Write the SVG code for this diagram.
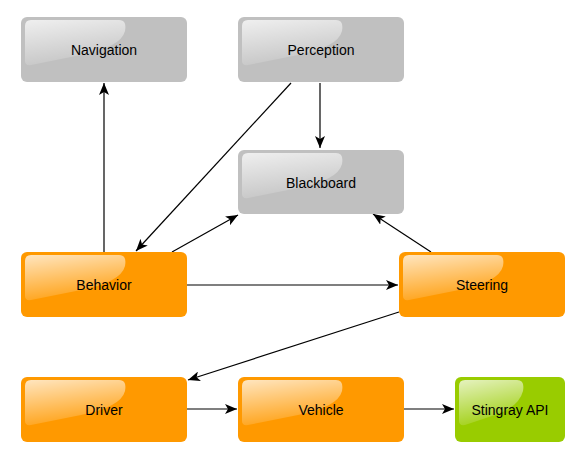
<svg xmlns="http://www.w3.org/2000/svg" width="579" height="460" viewBox="0 0 579 460">
<defs>
<linearGradient id="gloss" x1="0" y1="0" x2="0.3" y2="1">
<stop offset="0" stop-color="#fff" stop-opacity="0.75"/>
<stop offset="1" stop-color="#fff" stop-opacity="0.1"/>
</linearGradient>
<marker id="ah" viewBox="0 0 12 10" refX="12" refY="5" markerWidth="12" markerHeight="10" markerUnits="userSpaceOnUse" orient="auto">
<path d="M0,0 L12,5 L0,10 L3,5 Z" fill="#000"/>
</marker>
<g id="shine"><path d="M4,9 Q4,3 10,3 L98,3 Q106,3 104,14 Q100,30 60,38 Q30,44 10,48 Q4,49 4,44 Z" fill="url(#gloss)"/></g>
</defs>
<style>
.g rect.b{fill:#c0c0c0}
.o rect.b{fill:#ff9900}
.gr rect.b{fill:#99cc00}
text{font-family:"Liberation Sans",Arial,sans-serif;font-size:14px;fill:#000;text-anchor:middle;dominant-baseline:central}
.e{stroke:#000;stroke-width:1.2;fill:none;marker-end:url(#ah)}
</style>
<rect width="579" height="460" fill="#fff"/>
<g id="connectors">
<line class="e" x1="104" y1="252" x2="104" y2="83"/>
<line class="e" x1="291" y1="83" x2="136" y2="251"/>
<line class="e" x1="320" y1="83" x2="320" y2="148"/>
<line class="e" x1="172" y1="252" x2="238" y2="215"/>
<line class="e" x1="431" y1="252" x2="373" y2="214"/>
<line class="e" x1="187" y1="285" x2="398" y2="285"/>
<line class="e" x1="399" y1="312" x2="188" y2="380"/>
<line class="e" x1="187" y1="409" x2="237" y2="409"/>
<line class="e" x1="404" y1="409" x2="454" y2="409"/>
</g>
<g id="navigation" class="g" transform="translate(21,17)"><rect class="b" width="166" height="65" rx="6"/><use href="#shine"/><text x="83" y="33">Navigation</text></g>
<g id="perception" class="g" transform="translate(238,17)"><rect class="b" width="166" height="65" rx="6"/><use href="#shine"/><text x="83" y="33">Perception</text></g>
<g id="blackboard" class="g" transform="translate(238,150)"><rect class="b" width="166" height="64" rx="6"/><use href="#shine"/><text x="83" y="33">Blackboard</text></g>
<g id="behavior" class="o" transform="translate(21,252)"><rect class="b" width="166" height="65" rx="6"/><use href="#shine"/><text x="83" y="33">Behavior</text></g>
<g id="steering" class="o" transform="translate(399,252)"><rect class="b" width="166" height="65" rx="6"/><use href="#shine"/><text x="83" y="33">Steering</text></g>
<g id="driver" class="o" transform="translate(21,377)"><rect class="b" width="166" height="65" rx="6"/><use href="#shine"/><text x="83" y="33">Driver</text></g>
<g id="vehicle" class="o" transform="translate(238,377)"><rect class="b" width="166" height="65" rx="6"/><use href="#shine"/><text x="83" y="33">Vehicle</text></g>
<g id="stingray" class="gr" transform="translate(455,377)"><rect class="b" width="110" height="65" rx="6"/><path d="M4,9 Q4,3 10,3 L62,3 Q70,3 68,14 Q64,30 40,38 Q22,44 10,48 Q4,49 4,44 Z" fill="url(#gloss)"/><text x="55" y="33">Stingray API</text></g>
</svg>
